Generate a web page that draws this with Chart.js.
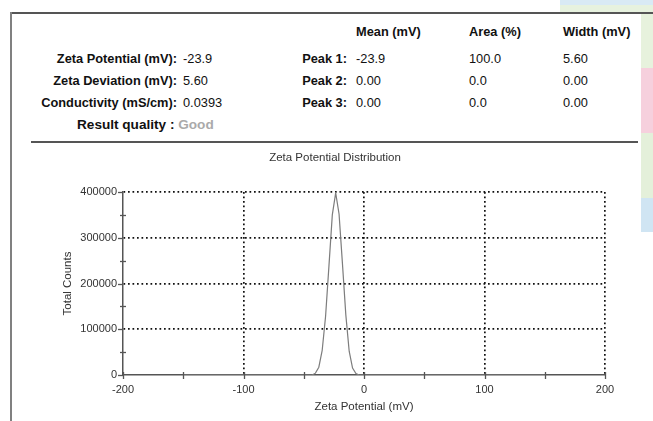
<!DOCTYPE html>
<html>
<head>
<meta charset="utf-8">
<script src="https://cdn.jsdelivr.net/npm/chart.js@4/dist/chart.umd.min.js"></script>
<style>
  html, body { margin: 0; padding: 0; background: #fff; }
  body { width: 653px; height: 421px; position: relative; overflow: hidden;
         font-family: Arial, "Liberation Sans", sans-serif; color: #111; }
  .t { position: absolute; font-size: 12.8px; line-height: 16px; white-space: nowrap; }
  .b { font-weight: bold; }
  .r { text-align: right; }
  .deco { position: absolute; }
  .line { position: absolute; background: #555; }
  #chart { position: absolute; left: 30px; top: 145px; }
</style>
</head>
<body>
  <!-- pastel background strips on the right edge -->
  <div class="deco" style="left:560px;top:0;width:93px;height:5px;background:#d9eaf5"></div>
  <div class="deco" style="left:560px;top:5px;width:93px;height:8px;background:#e7f2df"></div>
  <div class="deco" style="left:641px;top:13px;width:12px;height:55px;background:#e7f2dd"></div>
  <div class="deco" style="left:641px;top:68px;width:12px;height:65px;background:#f6d0dd"></div>
  <div class="deco" style="left:641px;top:133px;width:12px;height:65px;background:#e4f0da"></div>
  <div class="deco" style="left:641px;top:198px;width:12px;height:34px;background:#d0e5f3"></div>

  <!-- frame -->
  <div class="line" style="left:11px;top:12px;width:642px;height:1.5px"></div>
  <div class="line" style="left:10px;top:12px;width:2px;height:409px;background:#808080"></div>
  <div class="line" style="left:31px;top:141px;width:607px;height:1.5px"></div>

  <!-- header row -->
  <div class="t b" style="left:356px;top:24px">Mean (mV)</div>
  <div class="t b" style="left:469px;top:24px">Area (%)</div>
  <div class="t b" style="left:563px;top:24px">Width (mV)</div>

  <!-- summary -->
  <div class="t b r" style="left:0;width:177px;top:51px">Zeta Potential (mV):</div>
  <div class="t b r" style="left:0;width:177px;top:73px">Zeta Deviation (mV):</div>
  <div class="t b r" style="left:0;width:177px;top:95px">Conductivity (mS/cm):</div>
  <div class="t" style="left:183px;top:51px">-23.9</div>
  <div class="t" style="left:183px;top:73px">5.60</div>
  <div class="t" style="left:183px;top:95px">0.0393</div>
  <div class="t b" style="left:77px;top:117px;font-size:13.6px">Result quality : <span style="color:#aaa">Good</span></div>

  <!-- peaks -->
  <div class="t b r" style="left:250px;width:97px;top:51px">Peak 1:</div>
  <div class="t b r" style="left:250px;width:97px;top:73px">Peak 2:</div>
  <div class="t b r" style="left:250px;width:97px;top:95px">Peak 3:</div>
  <div class="t" style="left:356px;top:51px">-23.9</div>
  <div class="t" style="left:356px;top:73px">0.00</div>
  <div class="t" style="left:356px;top:95px">0.00</div>
  <div class="t" style="left:469px;top:51px">100.0</div>
  <div class="t" style="left:469px;top:73px">0.0</div>
  <div class="t" style="left:469px;top:95px">0.0</div>
  <div class="t" style="left:563px;top:51px">5.60</div>
  <div class="t" style="left:563px;top:73px">0.00</div>
  <div class="t" style="left:563px;top:95px">0.00</div>

  <canvas id="chart" width="610" height="276"></canvas>

<script>
// distribution
const zetaMv = [-150, -43.1, -40.3, -37.5, -34.7, -31.9, -29.1, -26.3, -23.5,
                -20.7, -17.9, -15.1, -12.3, -9.5, -6.7, -3.9, 150];
const totalCounts = [0, 0, 4000, 17000, 54000, 128000, 238000, 350000, 398000,
                     352000, 244000, 132000, 52000, 15000, 3000, 0, 0];

const FONT = 'Arial, "Liberation Sans", sans-serif';
Chart.defaults.font.family = FONT;

// small tick marks crossing the axes (majors and minors)
const axisTicks = {
  id: "axisTicks",
  afterDatasetsDraw(chart) {
    const { ctx, scales: { x, y } } = chart;
    ctx.save();
    ctx.strokeStyle = "#555";
    ctx.lineWidth = 1.3;
    x.ticks.forEach(t => {
      const px = Math.round(x.getPixelForValue(t.value)) + 0.5;
      ctx.beginPath();
      ctx.moveTo(px, y.bottom - 3);
      ctx.lineTo(px, y.bottom + 4);
      ctx.stroke();
    });
    y.ticks.forEach(t => {
      const py = Math.round(y.getPixelForValue(t.value)) + 0.5;
      const major = t.value % 100000 === 0;
      ctx.beginPath();
      ctx.moveTo(x.left - (major ? 5 : 3), py);
      ctx.lineTo(x.left + (major ? 0 : 3), py);
      ctx.stroke();
    });
    ctx.restore();
  }
};

const gridColor = (step, skip) => c =>
  (c.tick && c.tick.value % step === 0 && c.tick.value !== skip) ? "#111" : "rgba(0,0,0,0)";

new Chart(document.getElementById("chart").getContext("2d"), {
  type: "line",
  data: {
    datasets: [{
      data: zetaMv.map((v, i) => ({ x: v, y: totalCounts[i] })),
      borderColor: "#7d7d7d",
      borderWidth: 1.2,
      pointRadius: 0,
      tension: 0,
      fill: false
    }]
  },
  options: {
    responsive: false,
    animation: false,
    layout: { padding: 0 },
    plugins: {
      legend: { display: false },
      tooltip: { enabled: false },
      title: {
        display: true,
        text: "Zeta Potential Distribution",
        color: "#333",
        font: { size: 11.5, weight: "normal" },
        padding: { top: 6, bottom: 27.2 }
      }
    },
    scales: {
      x: {
        type: "linear",
        min: -200,
        max: 200,
        ticks: {
          stepSize: 50,
          autoSkip: false,
          maxRotation: 0,
          padding: 8,
          color: "#333",
          font: { size: 11 },
          callback: v => (v % 100 === 0 ? String(v) : "")
        },
        grid: { drawTicks: false, color: gridColor(100, -200), lineWidth: 1.7 },
        border: { color: "#555", width: 1.5, dash: [1.7, 2.8] },
        title: {
          display: true,
          text: "Zeta Potential (mV)",
          color: "#333",
          font: { size: 11.5 },
          padding: { top: 0, bottom: 7.1 }
        },
        afterFit: s => { s.height = 46; s.paddingRight = 35; }
      },
      y: {
        min: 0,
        max: 400000,
        ticks: {
          stepSize: 50000,
          autoSkip: false,
          padding: 6,
          color: "#333",
          font: { size: 11 },
          callback: v => (v % 100000 === 0 ? String(v) : "")
        },
        grid: { drawTicks: false, color: gridColor(100000, 0), lineWidth: 1.7 },
        border: { color: "#555", width: 1.5, dash: [1.7, 2.8] },
        title: {
          display: true,
          text: "Total Counts",
          color: "#333",
          font: { size: 11.5 },
          padding: { top: 31.1, bottom: 0 }
        },
        afterFit: s => { s.width = 93; }
      }
    }
  },
  plugins: [axisTicks]
});
</script>
</body>
</html>
